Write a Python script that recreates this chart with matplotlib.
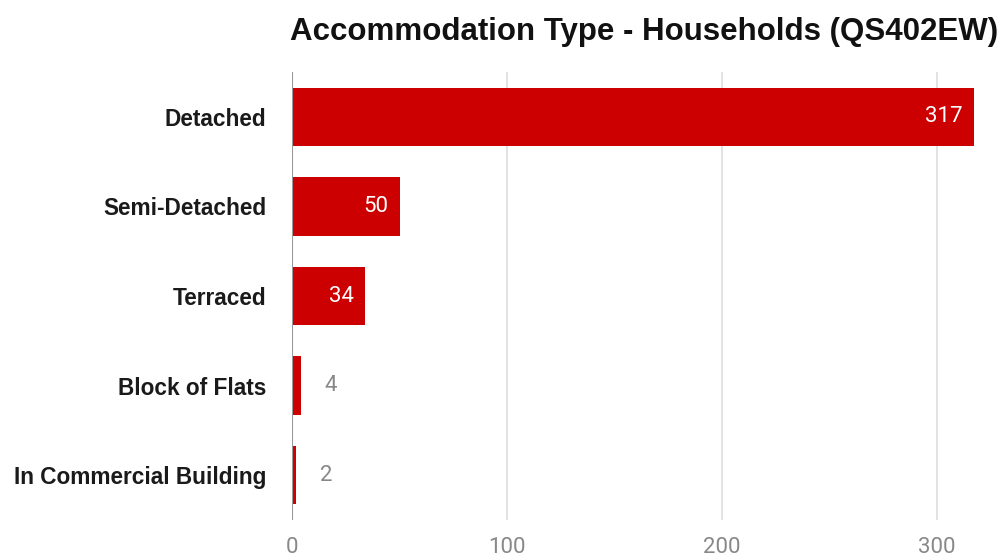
import matplotlib
matplotlib.use("Agg")
import matplotlib.pyplot as plt

categories = ["Detached", "Semi-Detached", "Terraced", "Block of Flats", "In Commercial Building"]
values = [317, 50, 34, 4, 2]
xticks = [0, 100, 200, 300]
title = "Accommodation Type - Households (QS402EW)"

W, H = 1006, 559
fig = plt.figure(figsize=(W / 100, H / 100), dpi=100)
left, right, top, bottom = 292, 1006, 72, 520
ax = fig.add_axes([left / W, 1 - bottom / H, (right - left) / W, (bottom - top) / H])

ypos = list(range(len(categories)))
ax.barh(ypos, values, height=0.65, color="#cc0000", zorder=3)
ax.set_ylim(len(categories) - 0.5, -0.5)
ax.set_xlim(0, (right - left) / 2.15)

ax.set_yticks(ypos)
ax.set_yticklabels(categories, fontfamily="Liberation Sans", fontweight="bold", fontsize=16.3, color="#1a1a1a")
ax.tick_params(axis="y", length=0, pad=18.5)
ax.set_xticks(xticks)
ax.set_xticklabels([str(t) for t in xticks], fontfamily="Roboto", fontsize=16, color="#888888")
ax.tick_params(axis="x", length=0, pad=12)

for s in ax.spines.values():
    s.set_visible(False)
ax.grid(axis="x", color="#dddddd", linewidth=1.2, zorder=0)
ax.axvline(0, color="#999999", linewidth=1.5, zorder=4)

for y, v in zip(ypos, values):
    if v > 20:
        ax.annotate(str(v), (v, y), xytext=(-8, 0), textcoords="offset points",
                    ha="right", va="center", color="white", fontfamily="Roboto", fontsize=16, zorder=5)
    else:
        ax.annotate(str(v), (v, y), xytext=(17, 0), textcoords="offset points",
                    ha="left", va="center", color="#888888", fontfamily="Roboto", fontsize=16, zorder=5)

fig.text(290 / W, 1 - 32 / H, title, ha="left", va="center",
         fontfamily="Liberation Sans", fontweight="bold", fontsize=22.5, color="#111111")

fig.savefig("out.png", dpi=100)
